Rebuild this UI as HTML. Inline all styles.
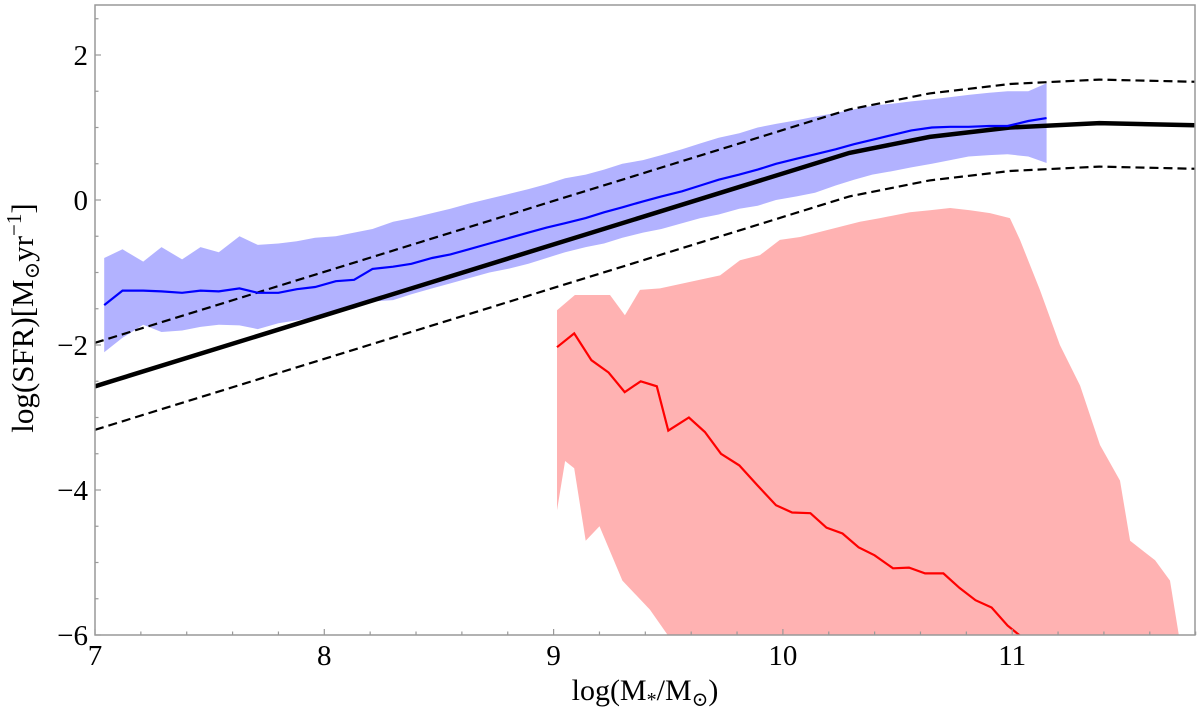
<!DOCTYPE html>
<html><head><meta charset="utf-8"><style>
html,body{margin:0;padding:0;background:#fff;}
svg{display:block;font-family:"Liberation Serif","DejaVu Serif",serif;}
</style></head><body>
<svg id="chart" width="1200" height="716" viewBox="0 0 1200 716" xmlns="http://www.w3.org/2000/svg">
<defs><clipPath id="plotclip"><rect x="95" y="5" width="1100" height="630"/></clipPath></defs>
<g id="marks" clip-path="url(#plotclip)"></g>
<g id="axes"></g>
<text x="645" y="700" font-size="30" text-anchor="middle">log(M<tspan font-size="20" dy="6">*</tspan><tspan dy="-6">/M</tspan><tspan font-size="20" dy="6">⊙</tspan><tspan dy="-6">)</tspan></text>
<text transform="translate(33,318) rotate(-90)" font-size="31" text-anchor="middle">log(SFR)[M<tspan font-size="21" dy="6">⊙</tspan><tspan dy="-6">yr</tspan><tspan font-size="21" dy="-12">−1</tspan><tspan dy="12">]</tspan></text>
</svg>
<script>
const relX = [7.0, 10.29, 10.64, 10.99, 11.38, 11.8];
const relY = [-2.57, 0.65, 0.87, 1.0, 1.06, 1.03];
const relScatter = [0.6];

const blueX = [7.04,7.12,7.21,7.29,7.38,7.46,7.54,7.63,7.71,7.80,7.88,7.96,8.05,8.13,8.21,8.30,8.38,8.47,8.55,8.63,8.72,8.80,8.89,8.97,9.05,9.14,9.22,9.30,9.39,9.47,9.56,9.64,9.72,9.81,9.89,9.97,10.06,10.14,10.23,10.31,10.39,10.48,10.56,10.65,10.73,10.81,10.90,10.98,11.07,11.15];
const blueMed = [-1.45,-1.25,-1.25,-1.26,-1.28,-1.25,-1.26,-1.22,-1.28,-1.28,-1.23,-1.2,-1.12,-1.1,-0.95,-0.92,-0.88,-0.8,-0.75,-0.68,-0.6,-0.53,-0.45,-0.38,-0.32,-0.25,-0.17,-0.1,-0.02,0.05,0.12,0.2,0.28,0.35,0.42,0.5,0.57,0.63,0.70,0.77,0.83,0.9,0.96,1.0,1.01,1.01,1.02,1.02,1.09,1.13];
const blueHi = [-0.8,-0.68,-0.85,-0.65,-0.82,-0.65,-0.72,-0.5,-0.62,-0.6,-0.57,-0.52,-0.5,-0.45,-0.4,-0.3,-0.25,-0.18,-0.12,-0.05,0.02,0.08,0.15,0.22,0.3,0.35,0.42,0.5,0.55,0.62,0.7,0.78,0.86,0.92,1.0,1.05,1.1,1.15,1.2,1.25,1.3,1.33,1.36,1.39,1.42,1.45,1.48,1.5,1.5,1.61];
const blueLo = [-2.1,-1.9,-1.72,-1.82,-1.8,-1.75,-1.72,-1.73,-1.78,-1.7,-1.66,-1.62,-1.55,-1.5,-1.4,-1.38,-1.3,-1.22,-1.15,-1.08,-1.0,-0.95,-0.88,-0.8,-0.72,-0.65,-0.6,-0.52,-0.45,-0.4,-0.32,-0.25,-0.2,-0.12,-0.08,0.0,0.05,0.1,0.2,0.28,0.35,0.4,0.45,0.5,0.55,0.6,0.62,0.63,0.6,0.51];

const redX = [9.015,9.09,9.165,9.24,9.31,9.38,9.45,9.5,9.59,9.66,9.73,9.81,9.89,9.97,10.04,10.12,10.19,10.26,10.33,10.4,10.48,10.55,10.62,10.7,10.77,10.84,10.91,10.98,11.05];
const redMed = [-2.03,-1.84,-2.21,-2.38,-2.65,-2.5,-2.57,-3.18,-3.0,-3.2,-3.5,-3.66,-3.94,-4.21,-4.31,-4.32,-4.52,-4.6,-4.79,-4.9,-5.08,-5.07,-5.15,-5.15,-5.35,-5.52,-5.62,-5.87,-6.05];
const redHiX = [9.015,9.093,9.246,9.311,9.377,9.464,9.595,9.726,9.813,9.9,9.987,10.075,10.162,10.336,10.424,10.554,10.641,10.729,10.816,10.903,10.99,11.034,11.121,11.208,11.296,11.383,11.47,11.514,11.623,11.688,11.732];
const redHi = [-1.52,-1.31,-1.31,-1.59,-1.24,-1.22,-1.13,-1.04,-0.83,-0.76,-0.55,-0.51,-0.44,-0.3,-0.25,-0.17,-0.14,-0.11,-0.14,-0.18,-0.25,-0.55,-1.24,-2.0,-2.56,-3.38,-3.87,-4.7,-4.97,-5.25,-6.1];
const redLoX = [9.015,9.05,9.09,9.14,9.2,9.3,9.42,9.52,11.732];
const redLo = [-4.28,-3.6,-3.7,-4.7,-4.5,-5.25,-5.65,-6.1,-6.1];

const xTicks = [7,8,9,10,11];
const yTicks = [-6,-4,-2,0,2];

const X0=95, X1=1195, Y0=635, Y1=5;
const xMin=7;
function sx(v){return X0+(v-xMin)*229.3;}
function sy(v){return 200-v*72.5;}
const NS='http://www.w3.org/2000/svg';
const marks=document.getElementById('marks'), axes=document.getElementById('axes');
function mk(tag,attrs,parent){const e=document.createElementNS(NS,tag);for(const k in attrs)e.setAttribute(k,attrs[k]);parent.appendChild(e);return e;}
function pts(xs,ys,off){return xs.map((x,i)=>sx(x).toFixed(1)+','+sy(ys[i]+(off||0)).toFixed(1));}

let p;
p=mk('polygon',{points:pts(redHiX,redHi).concat(pts(redLoX,redLo).reverse()).join(' '),fill:'#ffb2b2',stroke:'none'},marks);


p=mk('polygon',{points:pts(blueX,blueHi).concat(pts(blueX,blueLo).reverse()).join(' '),fill:'#b2b2ff',stroke:'none'},marks);


p=mk('polyline',{points:pts(relX,relY,relScatter[0]).join(' '),fill:'none',stroke:'#000','stroke-width':2.2,'stroke-dasharray':'9,5'},marks);


p=mk('polyline',{points:pts(relX,relY,-relScatter[0]).join(' '),fill:'none',stroke:'#000','stroke-width':2.2,'stroke-dasharray':'9,5'},marks);


p=mk('polyline',{points:pts(relX,relY).join(' '),fill:'none',stroke:'#000','stroke-width':4.5},marks);


p=mk('polyline',{points:pts(blueX,blueMed).join(' '),fill:'none',stroke:'#0000ff','stroke-width':2.2},marks);


p=mk('polyline',{points:pts(redX,redMed).join(' '),fill:'none',stroke:'#ff0000','stroke-width':2.2},marks);



p=mk('rect',{x:X0,y:Y1,width:X1-X0,height:Y0-Y1,fill:'none',stroke:'#999','stroke-width':1.5},axes);


for(let v=7;v<=11.8;v+=0.2){const x=sx(v);const major=Math.abs(v-Math.round(v))<1e-6;
  p=mk('line',{x1:x,x2:x,y1:Y0,y2:Y0-(major?6:3.5),stroke:'#999','stroke-width':1.2},axes);
  
  }
for(let v=-6;v<=2.7;v+=0.5){const y=sy(v);const major=Math.abs(v/2-Math.round(v/2))<1e-6;
  p=mk('line',{x1:X0,x2:X0+(major?6:3.5),y1:y,y2:y,stroke:'#999','stroke-width':1.2},axes);
  
  }
xTicks.forEach(t=>{p=mk('text',{x:sx(t),y:665,'font-size':29,'text-anchor':'middle'},axes);p.textContent=String(t);
  
  });
yTicks.forEach(t=>{p=mk('text',{x:88,y:sy(t)+10,'font-size':29,'text-anchor':'end'},axes);p.textContent=(t<0?'\u2212':'')+Math.abs(t);
  
  });
</script>
</body></html>
